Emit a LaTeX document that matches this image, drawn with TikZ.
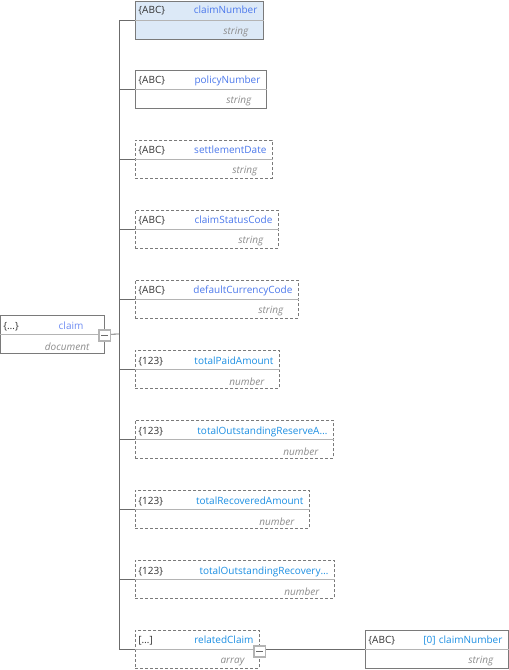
\documentclass[tikz,border=0pt]{standalone}
\usepackage{fontspec}
\setmainfont{Open Sans}
\usepackage{xcolor}

\definecolor{boxline}{HTML}{7A7A7A}
\definecolor{rowline}{HTML}{B4B4B4}
\definecolor{selfill}{HTML}{DCE9F7}
\definecolor{strname}{HTML}{4B78EC}
\definecolor{numname}{HTML}{1C8FE3}
\definecolor{docname}{HTML}{6E8CF2}
\definecolor{typetext}{HTML}{8C8C8C}
\definecolor{tagtext}{HTML}{333333}
\definecolor{linkline}{HTML}{6B6B6B}

\newcommand{\fieldrows}[4]{\noindent\rule{0pt}{11pt}{\color{tagtext}#1}\hfill{\color{#2}#3}\hspace*{3pt}\null\\[8.5pt]\hspace*{0pt}\hfill{\color{typetext}\itshape #4}\hspace*{12pt}\null}

\begin{document}
\begin{tikzpicture}[
		x=1pt, y=-1pt,
		field/.style={draw=boxline, line width=0.8pt, fill=white, minimum height=38, inner xsep=3pt, inner ysep=0pt, anchor=north west, align=left, font=\fontsize{10}{12}\selectfont},
		optfield/.style={field, dash pattern=on 3pt off 2pt},
		divider/.style={draw=rowline, line width=0.8pt},
		btn/.style={draw=rowline, line width=1.8pt, fill=white, minimum size=11.5, inner sep=0pt, path picture={\draw[linkline, line width=0.8pt] ([xshift=-3.5pt]path picture bounding box.center) -- ([xshift=3.5pt]path picture bounding box.center);}},
		conn/.style={draw=linkline, line width=0.8pt}
	]
	\useasboundingbox (0,0) rectangle (509,670);

	\node[field, text width=98] (claim) at (0,315) {\fieldrows{\{…\}}{docname}{claim\hspace*{15pt}}{document}};

	\node[field, fill=selfill, text width=122] (claimNumber) at (135,0.5) {\fieldrows{\{ABC\}}{strname}{claimNumber}{string}};
	\node[field, text width=125] (policyNumber) at (135,70) {\fieldrows{\{ABC\}}{strname}{policyNumber}{string}};
	\node[optfield, text width=131] (settlementDate) at (135,140) {\fieldrows{\{ABC\}}{strname}{settlementDate}{string}};
	\node[optfield, text width=137] (claimStatusCode) at (135,210) {\fieldrows{\{ABC\}}{strname}{claimStatusCode}{string}};
	\node[optfield, text width=157] (defaultCurrencyCode) at (135,280) {\fieldrows{\{ABC\}}{strname}{defaultCurrencyCode}{string}};
	\node[optfield, text width=138] (totalPaidAmount) at (135,350) {\fieldrows{\{123\}}{numname}{totalPaidAmount}{number}};
	\node[optfield, text width=192] (totalOutstandingReserve) at (135,420) {\fieldrows{\{123\}}{numname}{totalOutstandingReserveA…}{number}};
	\node[optfield, text width=168] (totalRecoveredAmount) at (135,490) {\fieldrows{\{123\}}{numname}{totalRecoveredAmount}{number}};
	\node[optfield, text width=193] (totalOutstandingRecovery) at (135,560) {\fieldrows{\{123\}}{numname}{totalOutstandingRecovery…}{number}};
	\node[optfield, text width=118] (relatedClaim) at (135,630) {\fieldrows{[…]}{numname}{relatedClaim}{array}};

	\node[field, text width=137] (relatedClaimItem) at (365,630) {\fieldrows{\{ABC\}}{numname}{[0] claimNumber}{string}};

	\foreach \n in {claim,claimNumber,policyNumber,settlementDate,claimStatusCode,defaultCurrencyCode,totalPaidAmount,totalOutstandingReserve,totalRecoveredAmount,totalOutstandingRecovery,relatedClaim,relatedClaimItem}
		\draw[divider] (\n.west) -- (\n.east);

	\coordinate (trunk) at (119,334);
	\draw[conn] (claim.east) -- (trunk);
	\foreach \n in {claimNumber,policyNumber,settlementDate,claimStatusCode,defaultCurrencyCode,totalPaidAmount,totalOutstandingReserve,totalRecoveredAmount,totalOutstandingRecovery,relatedClaim}
		\draw[conn] (trunk) |- (\n.west);
	\draw[conn] (relatedClaim.east) -- (relatedClaimItem.west);

	\node[btn] (claimBtn) at ([yshift=-1pt]claim.east) {};
	\node[btn] (relatedClaimBtn) at ([yshift=-2pt]relatedClaim.east) {};
\end{tikzpicture}
\end{document}
